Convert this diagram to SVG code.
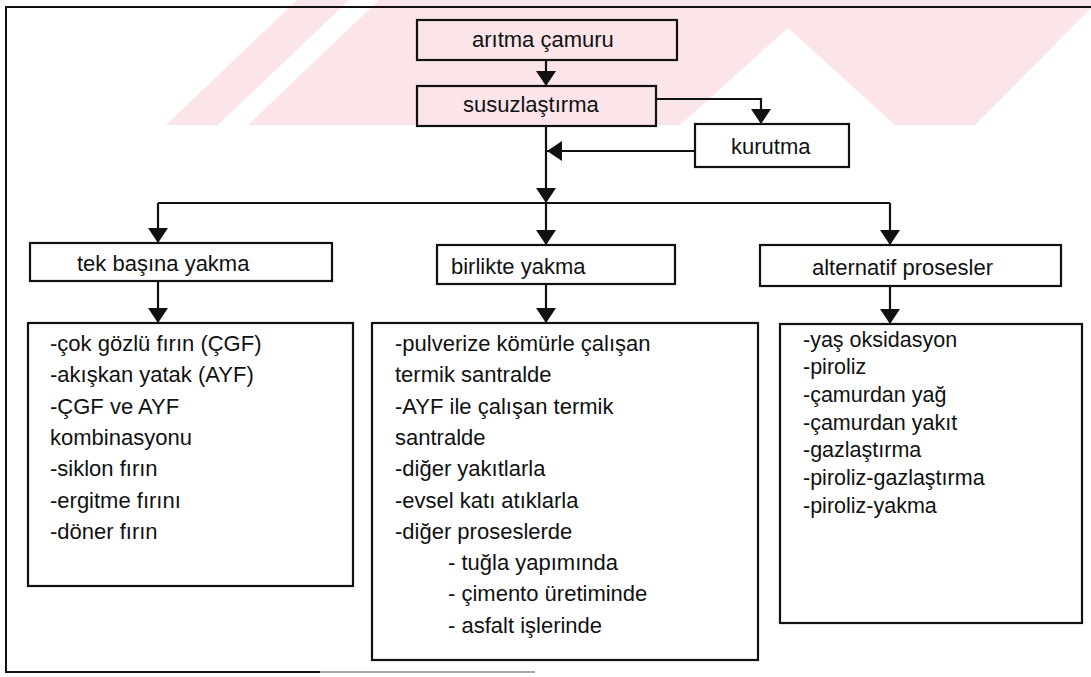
<svg xmlns="http://www.w3.org/2000/svg" width="1091" height="677" viewBox="0 0 1091 677">
  <defs>
    <style>
      .box { fill: none; stroke: #111; stroke-width: 2.2; }
      .wire { fill: none; stroke: #111; stroke-width: 2.2; }
      .frame { fill: none; stroke: #111; stroke-width: 2; }
      .mark { fill: #fce5e9; stroke: none; }
      text { font-family: "Liberation Sans", Arial, sans-serif; font-size: 22px; fill: #111; }
      .sm { font-size: 21.5px; }
    </style>
    <marker id="ah" markerUnits="userSpaceOnUse" markerWidth="16" markerHeight="20" refX="15" refY="10" orient="auto">
      <path d="M0,0 L15,10 L0,20 Z" fill="#111"/>
    </marker>
  </defs>

  <rect width="1091" height="677" fill="#fff"/>

  <!-- faint background emblem -->
  <g id="emblem">
    <polygon class="mark" points="166,125 218,125 349,0 297,0"/>
    <polygon class="mark" points="248,125 379,0 1091,0 1091,8 975,125 895,125 788,28 680,125"/>
  </g>

  <!-- outer frame (left, top and part of bottom) -->
  <g id="frame">
    <path class="frame" d="M1091,7 H6 V672 H320"/>
    <path d="M320,672 H535" fill="none" stroke="#888" stroke-width="1.6"/>
  </g>

  <g id="connectors">
    <path class="wire" d="M546,60 V86" marker-end="url(#ah)"/>
    <path class="wire" d="M656,99 H761 V124" marker-end="url(#ah)"/>
    <path class="wire" d="M695,151 H547" marker-end="url(#ah)"/>
    <path class="wire" d="M546,126 V203" marker-end="url(#ah)"/>
    <path class="wire" d="M158,203 H890"/>
    <path class="wire" d="M158,203 V243" marker-end="url(#ah)"/>
    <path class="wire" d="M546,203 V245" marker-end="url(#ah)"/>
    <path class="wire" d="M890,203 V245" marker-end="url(#ah)"/>
    <path class="wire" d="M158,281 V323" marker-end="url(#ah)"/>
    <path class="wire" d="M546,284 V323" marker-end="url(#ah)"/>
    <path class="wire" d="M890,286 V324" marker-end="url(#ah)"/>
  </g>

  <g id="aritma-camuru">
    <rect class="box" x="417" y="20" width="260" height="40"/>
    <text x="472" y="47">arıtma çamuru</text>
  </g>

  <g id="susuzlastirma">
    <rect class="box" x="417" y="86" width="239" height="40"/>
    <text x="463" y="112">susuzlaştırma</text>
  </g>

  <g id="kurutma">
    <rect class="box" x="695" y="124" width="154" height="43"/>
    <text x="731" y="154">kurutma</text>
  </g>

  <g id="tek-basina-yakma">
    <rect class="box" x="30" y="243" width="302" height="38"/>
    <text x="77" y="271">tek başına yakma</text>
  </g>

  <g id="birlikte-yakma">
    <rect class="box" x="437" y="245" width="238" height="39"/>
    <text x="451" y="274">birlikte yakma</text>
  </g>

  <g id="alternatif-prosesler">
    <rect class="box" x="760" y="245" width="301" height="41"/>
    <text x="812" y="275">alternatif prosesler</text>
  </g>

  <g id="tek-basina-liste">
    <rect class="box" x="28" y="323" width="325" height="263"/>
    <text x="50" y="351">-çok gözlü fırın (ÇGF)</text>
    <text x="50" y="382.3">-akışkan yatak (AYF)</text>
    <text x="50" y="413.6">-ÇGF ve AYF</text>
    <text x="50" y="444.9">kombinasyonu</text>
    <text x="50" y="476.2">-siklon fırın</text>
    <text x="50" y="507.5">-ergitme fırını</text>
    <text x="50" y="538.8">-döner fırın</text>
  </g>

  <g id="birlikte-liste">
    <rect class="box" x="372" y="323" width="386" height="337"/>
    <text x="395" y="351">-pulverize kömürle çalışan</text>
    <text x="395" y="382.3">termik santralde</text>
    <text x="395" y="413.6">-AYF ile çalışan termik</text>
    <text x="395" y="444.9">santralde</text>
    <text x="395" y="476.2">-diğer yakıtlarla</text>
    <text x="395" y="507.5">-evsel katı atıklarla</text>
    <text x="395" y="538.8">-diğer proseslerde</text>
    <text x="448" y="570.1">- tuğla yapımında</text>
    <text x="448" y="601.4">- çimento üretiminde</text>
    <text x="448" y="632.7">- asfalt işlerinde</text>
  </g>

  <g id="alternatif-liste">
    <rect class="box" x="780" y="324" width="302" height="299"/>
    <text class="sm" x="803" y="346.5">-yaş oksidasyon</text>
    <text class="sm" x="803" y="374.2">-piroliz</text>
    <text class="sm" x="803" y="401.9">-çamurdan yağ</text>
    <text class="sm" x="803" y="429.6">-çamurdan yakıt</text>
    <text class="sm" x="803" y="457.3">-gazlaştırma</text>
    <text class="sm" x="803" y="485">-piroliz-gazlaştırma</text>
    <text class="sm" x="803" y="512.7">-piroliz-yakma</text>
  </g>
</svg>
